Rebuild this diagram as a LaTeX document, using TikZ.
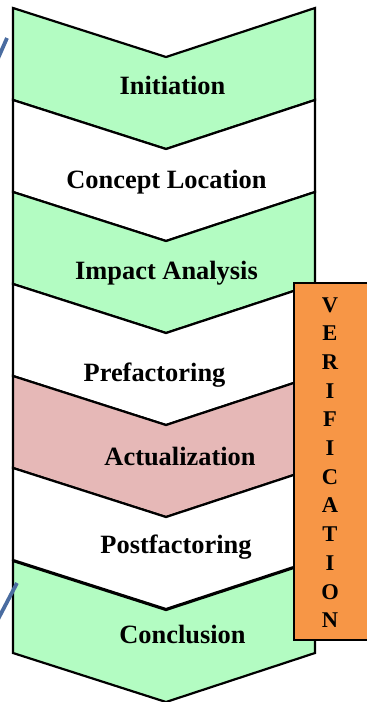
\documentclass[tikz,border=0pt]{standalone}
\usepackage{fontspec}
\setmainfont{Liberation Serif}
\definecolor{stagegreen}{RGB}{179,252,194}
\definecolor{stagepink}{RGB}{230,184,183}
\definecolor{verifyorange}{RGB}{247,150,70}
\definecolor{linkblue}{RGB}{74,108,160}
\tikzset{
  stageshape/.style={draw=black, line width=2.2pt, line join=miter},
  stagelabel/.style={anchor=base, inner sep=0pt, font=\fontsize{26.4}{30}\selectfont\bfseries},
  verifybox/.style={draw=black, line width=2.2pt, fill=verifyorange, anchor=north west,
    minimum width=90pt, minimum height=357pt, inner sep=0pt},
  verifyletter/.style={anchor=base, inner sep=0pt, font=\fontsize{22.5}{26}\selectfont\bfseries},
  linkline/.style={draw=linkblue, line width=3.8pt}
}
\begin{document}
\begin{tikzpicture}[x=1pt,y=-1pt]
\useasboundingbox (0,0) rectangle (367,702);
\clip (0,0) rectangle (367,702);
% chevron stages, stacked top to bottom
\foreach \ytop/\shade in {8/stagegreen, 100/white, 192/stagegreen, 284/white,
                          376/stagepink, 468/white, 561/stagegreen}
  \draw[stageshape, fill=\shade] (13,\ytop) -- (166,\ytop+49) -- (315,\ytop)
     -- (315,\ytop+92) -- (166,\ytop+141) -- (13,\ytop+92) -- cycle;
% stage names
\node[stagelabel] (init)  at (172.5,94)  {Initiation};
\node[stagelabel] (conc)  at (166.5,188) {Concept Location};
\node[stagelabel] (impact) at (166.5,279) {Impact Analysis};
\node[stagelabel] (pref)  at (154.5,381) {Prefactoring};
\node[stagelabel] (actu)  at (180,465)   {Actualization};
\node[stagelabel] (postf) at (176,553)   {Postfactoring};
\node[stagelabel] (concl) at (182.5,643) {Conclusion};
% verification bar along the right side
\node[verifybox] (verif) at (293,282) {};
\foreach \ch [count=\i from 0] in {V,E,R,I,F,I,C,A,T,I,O,N}
  \node[verifyletter] (v\i) at (330,312+28.7*\i) {\ch};
% loop edges entering from the left
\draw[linkline] (-4,63) -- (7,38);
\draw[linkline] (-5,625) -- (17,583);
\end{tikzpicture}
\end{document}
